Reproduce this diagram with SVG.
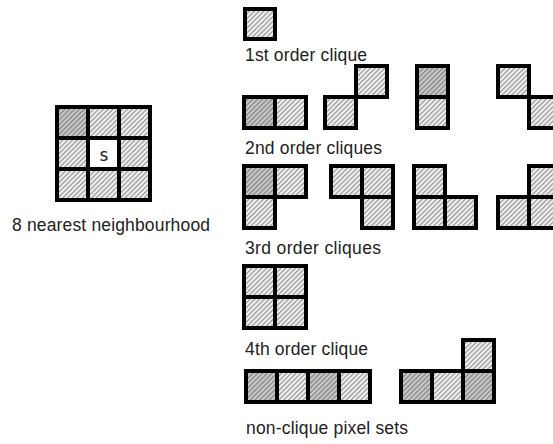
<svg xmlns="http://www.w3.org/2000/svg" width="553" height="444" viewBox="0 0 553 444">
<defs>
<pattern id="hl" patternUnits="userSpaceOnUse" width="3.4" height="3.4" patternTransform="rotate(45)">
<rect width="3.4" height="3.4" fill="#f2f2f2"/>
<rect width="1.3" height="3.4" fill="#9a9a9a"/>
</pattern>
<pattern id="hd" patternUnits="userSpaceOnUse" width="3.4" height="3.4" patternTransform="rotate(45)">
<rect width="3.4" height="3.4" fill="#cacaca"/>
<rect width="1.4" height="3.4" fill="#8a8a8a"/>
</pattern>
</defs>
<style>
.l{fill:url(#hl);stroke:#000;stroke-width:4}
.d{fill:url(#hd);stroke:#000;stroke-width:4}
.w{fill:#fff;stroke:#000;stroke-width:4}
text{font-family:"Liberation Sans",Arial,sans-serif;font-size:17.5px;fill:#222}
</style>
<rect width="553" height="444" fill="#fff"/>

<g id="neighbourhood">
<rect class="d" x="57" y="107" width="31" height="31"/>
<rect class="l" x="88" y="107" width="31" height="31"/>
<rect class="l" x="119" y="107" width="31" height="31"/>
<rect class="l" x="57" y="138" width="31" height="31"/>
<rect class="w" x="88" y="138" width="31" height="31"/>
<rect class="l" x="119" y="138" width="31" height="31"/>
<rect class="l" x="57" y="169" width="31" height="31"/>
<rect class="l" x="88" y="169" width="31" height="31"/>
<rect class="l" x="119" y="169" width="31" height="31"/>
<text x="104" y="161" text-anchor="middle" style="font-family:'DejaVu Sans',sans-serif;font-size:17px">s</text>
<text x="12" y="231" textLength="198" lengthAdjust="spacing">8 nearest neighbourhood</text>
</g>

<g id="clique1">
<rect class="l" x="245" y="9" width="30" height="30"/>
<text x="245" y="61" textLength="122" lengthAdjust="spacing">1st order clique</text>
</g>

<g id="clique2-h">
<rect class="d" x="244" y="97" width="31" height="31"/>
<rect class="l" x="275" y="97" width="31" height="31"/>
</g>
<g id="clique2-diag">
<rect class="l" x="325" y="97" width="31" height="31"/>
<rect class="l" x="356" y="66" width="31" height="31"/>
</g>
<g id="clique2-v">
<rect class="d" x="417" y="66" width="31" height="31"/>
<rect class="l" x="417" y="97" width="31" height="31"/>
</g>
<g id="clique2-anti">
<rect class="l" x="498" y="66" width="31" height="31"/>
<rect class="l" x="529" y="97" width="31" height="31"/>
</g>
<text id="label2" x="245" y="154" textLength="137" lengthAdjust="spacing">2nd order cliques</text>

<g id="clique3-a">
<rect class="d" x="244" y="166" width="31" height="31"/>
<rect class="l" x="275" y="166" width="31" height="31"/>
<rect class="l" x="244" y="197" width="31" height="31"/>
</g>
<g id="clique3-b">
<rect class="l" x="331" y="166" width="31" height="31"/>
<rect class="l" x="362" y="166" width="31" height="31"/>
<rect class="l" x="362" y="197" width="31" height="31"/>
</g>
<g id="clique3-c">
<rect class="l" x="414" y="166" width="31" height="31"/>
<rect class="l" x="414" y="197" width="31" height="31"/>
<rect class="l" x="445" y="197" width="31" height="31"/>
</g>
<g id="clique3-d">
<rect class="l" x="529" y="166" width="31" height="31"/>
<rect class="l" x="498" y="197" width="31" height="31"/>
<rect class="l" x="529" y="197" width="31" height="31"/>
</g>
<text id="label3" x="245" y="254" textLength="136" lengthAdjust="spacing">3rd order cliques</text>

<g id="clique4">
<rect class="l" x="244" y="266" width="31" height="31"/>
<rect class="l" x="275" y="266" width="31" height="31"/>
<rect class="l" x="244" y="297" width="31" height="31"/>
<rect class="l" x="275" y="297" width="31" height="31"/>
<text x="245" y="355" textLength="123" lengthAdjust="spacing">4th order clique</text>
</g>

<g id="nonclique-row">
<rect class="d" x="246" y="371" width="31" height="31"/>
<rect class="l" x="277" y="371" width="31" height="31"/>
<rect class="d" x="308" y="371" width="31" height="31"/>
<rect class="l" x="339" y="371" width="31" height="31"/>
</g>
<g id="nonclique-l">
<rect class="d" x="401" y="371" width="31" height="31"/>
<rect class="l" x="432" y="371" width="31" height="31"/>
<rect class="d" x="463" y="371" width="31" height="31"/>
<rect class="l" x="463" y="340" width="31" height="31"/>
</g>
<text id="label5" x="246" y="434" textLength="162" lengthAdjust="spacing">non-clique pixel sets</text>
<g id="connectors"/>
</svg>
